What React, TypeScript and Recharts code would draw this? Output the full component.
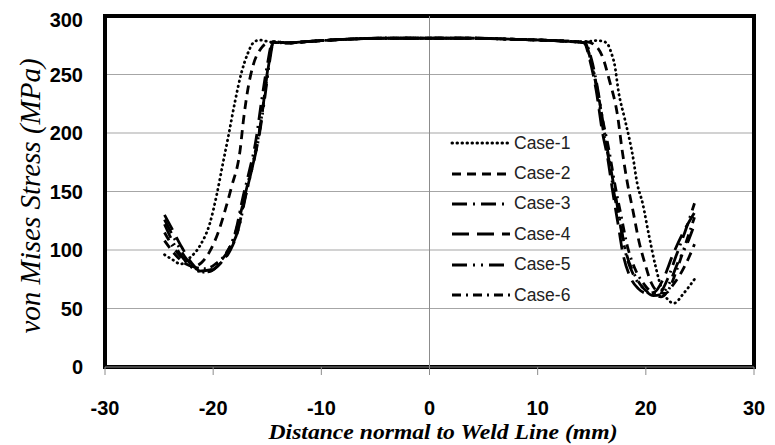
import React from "react";
import {
  CartesianGrid,
  Legend,
  Line,
  LineChart,
  ReferenceArea,
  ReferenceLine,
  XAxis,
  YAxis,
} from "recharts";

// von Mises stress across the weld line, six cases

type Pt = { x: number; y: number };
const pts = (rows: number[][]): Pt[] => rows.map(([x, y]) => ({ x, y }));

const xTicks = [-30, -20, -10, 0, 10, 20, 30];
const yTicks = [0, 50, 100, 150, 200, 250, 300];

// common top of all curves
const plateau = [
  [-13, 277], [-11.5, 278], [-8, 280], [-4, 281], [0, 281],
  [4, 281], [8, 280], [11.5, 279], [13.5, 278],
];

const case1Left = [
  [-24.5, 96], [-23.8, 92], [-23.0, 88], [-22.2, 93], [-21.2, 104], [-20.3, 123],
  [-19.7, 146], [-19.1, 174], [-18.6, 197], [-18.0, 226], [-17.4, 251], [-16.8, 268],
  [-16.3, 277], [-15.7, 279.5], [-15.1, 278.5], [-14.6, 277.5],
];
const case1Right = [
  [14.5, 278], [15.4, 279], [16.0, 278.5], [16.5, 275.5], [16.8, 268.5], [17.1, 259],
  [17.5, 234], [18.0, 214], [18.5, 194], [18.8, 180], [19.2, 157], [19.7, 140],
  [20.3, 112], [20.9, 86], [21.5, 66], [22.0, 58], [22.6, 54.5], [23.5, 63], [24.5, 75],
];

const case2Left = [
  [-24.5, 108], [-23.5, 96], [-22.5, 88], [-21.8, 86], [-21.1, 89], [-20.3, 99],
  [-19.5, 116], [-18.8, 137], [-18.3, 154], [-17.5, 186], [-17.2, 211], [-16.8, 237],
  [-16.3, 258], [-15.6, 272], [-15.0, 277], [-14.6, 277.5],
];
const case2Right = [
  [14.5, 278], [15.3, 275], [16.0, 265], [16.6, 246], [17.4, 214], [17.8, 186],
  [18.3, 157], [18.8, 134], [19.4, 106], [19.9, 89], [20.5, 72], [21.2, 64],
  [21.8, 63], [22.5, 70], [23.1, 78], [24.0, 94], [24.5, 105],
];

const case3Left = [
  [-24.5, 122], [-23.5, 103], [-22.5, 90], [-21.3, 82], [-20.3, 83], [-19.5, 89],
  [-18.6, 100], [-17.9, 117], [-17.3, 143], [-16.7, 166], [-16.1, 191], [-15.5, 229],
  [-15.0, 258], [-14.5, 278],
];
const case3Right = [
  [14.4, 277], [15.0, 262], [15.6, 235], [16.1, 205], [16.6, 178], [17.1, 152],
  [17.6, 125], [18.2, 97], [18.9, 80], [19.7, 68], [20.5, 63], [21.2, 63],
  [22.0, 75], [22.8, 95], [23.6, 115], [24.5, 140],
];

const case4Left = [
  [-24.5, 130], [-23.8, 118], [-23.0, 104], [-22.0, 89], [-21.0, 81], [-20.2, 82],
  [-19.3, 89], [-18.4, 100], [-17.7, 117], [-17.1, 143], [-16.5, 166], [-15.9, 191],
  [-15.3, 229], [-14.9, 258], [-14.4, 278],
];
const case4Right = [
  [14.3, 277], [14.8, 263], [15.4, 237], [16.0, 200], [16.5, 177], [16.9, 152],
  [17.4, 124], [17.9, 96], [18.5, 78], [19.3, 67], [20.1, 63], [20.8, 64],
  [21.6, 75], [22.5, 96], [23.4, 114], [24.5, 132],
];

const case5Left = [
  [-24.5, 126], [-23.6, 110], [-22.6, 94], [-21.6, 84], [-20.8, 81], [-19.9, 84],
  [-19.1, 91], [-18.3, 103], [-17.6, 120], [-17.0, 146], [-16.4, 170], [-15.8, 195],
  [-15.2, 232], [-14.8, 260], [-14.4, 278],
];
const case5Right = [
  [14.4, 277], [14.9, 262], [15.5, 236], [16.1, 200], [16.6, 176], [17.0, 152],
  [17.6, 123], [18.2, 95], [18.9, 78], [19.8, 67], [20.7, 61], [21.4, 62],
  [22.2, 72], [23.0, 90], [23.8, 105], [24.5, 122],
];

const case6Left = [
  [-24.5, 115], [-23.5, 100], [-22.5, 90], [-21.6, 85], [-20.7, 84], [-19.8, 88],
  [-18.9, 96], [-18.1, 110], [-17.5, 130], [-16.9, 153], [-16.3, 176], [-15.7, 203],
  [-15.2, 236], [-14.8, 262], [-14.4, 278],
];
const case6Right = [
  [14.3, 277], [14.9, 263], [15.5, 238], [16.0, 212], [16.6, 185], [17.1, 158],
  [17.7, 130], [18.3, 103], [19.0, 84], [19.9, 70], [20.8, 62], [21.4, 60],
  [22.1, 66], [22.9, 84], [23.7, 106], [24.5, 128],
];

const cases = [
  { name: "Case-1", data: pts([...case1Left, ...plateau, ...case1Right]), dash: "0.5 4.5", cap: "round" },
  { name: "Case-2", data: pts([...case2Left, ...plateau, ...case2Right]), dash: "9 6", cap: "butt" },
  { name: "Case-3", data: pts([...case3Left, ...plateau, ...case3Right]), dash: "15 6 2 6", cap: "butt" },
  { name: "Case-4", data: pts([...case4Left, ...plateau, ...case4Right]), dash: "17 8", cap: "butt" },
  { name: "Case-5", data: pts([...case5Left, ...plateau, ...case5Right]), dash: "15 6 2 6 2 6", cap: "butt" },
  { name: "Case-6", data: pts([...case6Left, ...plateau, ...case6Right]), dash: "9 5 2 5", cap: "butt" },
];

const TICK_FONT = {
  fontFamily: "'Liberation Sans', Arial, sans-serif",
  fontWeight: 700,
  fontSize: 20,
  fill: "#000",
};

function CaseLegend() {
  return (
    <div style={{ fontFamily: "'Liberation Sans', Arial, sans-serif", fontSize: 17.5, color: "#222" }}>
      {cases.map((c) => (
        <div key={c.name} style={{ display: "flex", alignItems: "center", height: 30.4 }}>
          <svg width={64} height={10}>
            <line
              x1={2}
              y1={5}
              x2={60}
              y2={5}
              stroke="#000"
              strokeWidth={3}
              strokeDasharray={c.dash}
              strokeLinecap={c.cap as "round" | "butt"}
            />
          </svg>
          <span>{c.name}</span>
        </div>
      ))}
    </div>
  );
}

export default function App() {
  return (
    <LineChart width={767} height={437} margin={{ top: 8, right: 21, left: 0, bottom: 0 }}>
      <CartesianGrid vertical={false} stroke="#a6a6a6" strokeWidth={1.2} />
      <XAxis
        type="number"
        dataKey="x"
        domain={[-30, 30]}
        ticks={xTicks}
        allowDuplicatedCategory={false}
        height={78}
        tick={TICK_FONT}
        tickSize={8}
        tickMargin={26}
        tickLine={{ stroke: "#8c8c8c" }}
        axisLine={{ stroke: "#8c8c8c" }}
        label={{
          content: () => (
            <text
              x={435}
              y={424}
              textAnchor="middle"
              dominantBaseline="central"
              fontFamily="'Liberation Serif', 'Times New Roman', serif"
              fontStyle="italic"
              fontWeight={700}
              fontSize={20}
              textLength={349}
              lengthAdjust="spacingAndGlyphs"
            >
              Distance normal to Weld Line (mm)
            </text>
          ),
        }}
      />
      <YAxis
        type="number"
        domain={[0, 300]}
        ticks={yTicks}
        width={97}
        tick={TICK_FONT}
        tickSize={0}
        tickLine={false}
        axisLine={false}
        tickMargin={22}
        label={{
          content: () => (
            <text
              x={22}
              y={188}
              transform="rotate(-90 22 188)"
              textAnchor="middle"
              dominantBaseline="central"
              fontFamily="'Liberation Serif', 'Times New Roman', serif"
              fontStyle="italic"
              fontSize={29}
            >
              von Mises Stress (MPa)
            </text>
          ),
        }}
      />
      <ReferenceLine x={0} stroke="#8c8c8c" strokeWidth={1} />
      {cases.map((c) => (
        <Line
          key={c.name}
          data={c.data}
          dataKey="y"
          name={c.name}
          type="monotone"
          stroke="#000"
          strokeWidth={2.8}
          strokeDasharray={c.dash}
          strokeLinecap={c.cap as "round" | "butt"}
          dot={false}
          isAnimationActive={false}
        />
      ))}
      <ReferenceArea x1={-30} x2={30} y1={0} y2={300} fill="none" stroke="#000" strokeWidth={4} />
      <Legend
        layout="horizontal"
        verticalAlign="middle"
        align="center"
        wrapperStyle={{ left: 442, top: 120, width: 140, height: 190 }}
        content={() => <CaseLegend />}
      />
    </LineChart>
  );
}
